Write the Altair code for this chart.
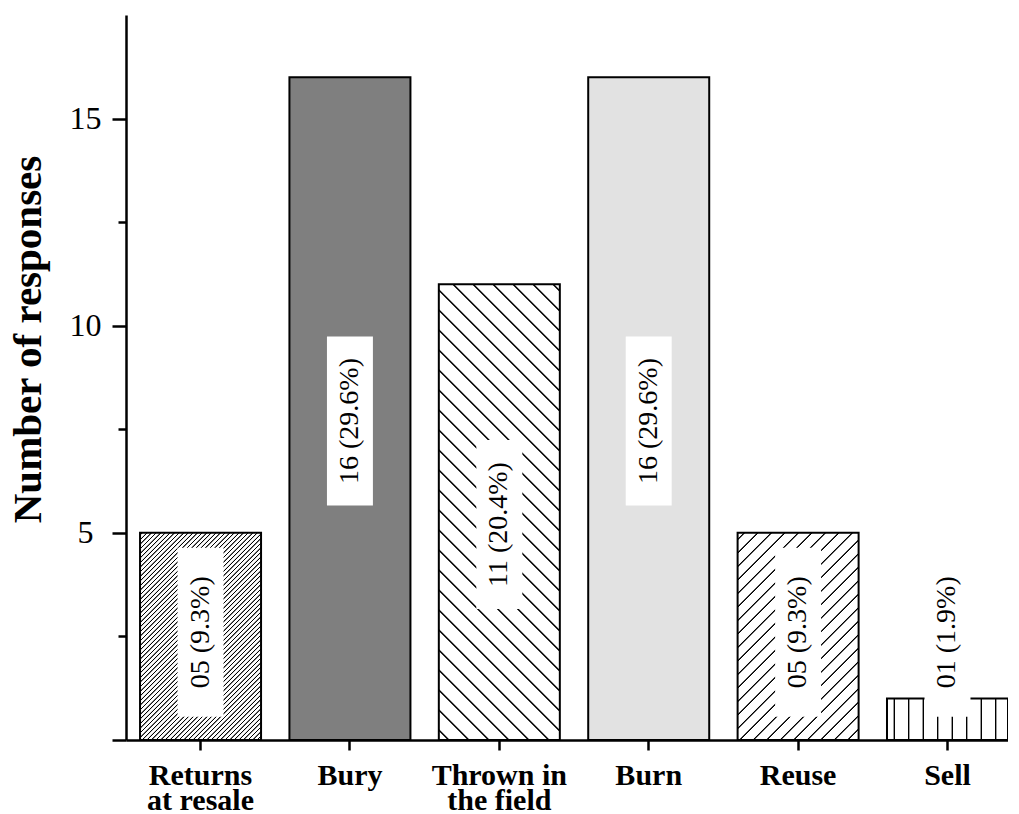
import math
import altair as alt
import pandas as pd

# ---- data ----
categories = ["Returns\nat resale", "Bury", "Thrown in\nthe field", "Burn", "Reuse", "Sell"]
counts = [5, 16, 11, 16, 5, 1]
labels = ["05 (9.3%)", "16 (29.6%)", "11 (20.4%)", "16 (29.6%)", "05 (9.3%)", "01 (1.9%)"]

# ---- layout / style ----
W, H = 882, 725
YMAX = 17.5
P_IN, P_OUT = 0.19, 0.047
SERIF = "Liberation Serif"

step = W / (len(categories) - P_IN + 2 * P_OUT)
bar_w = step * (1 - P_IN)
px_per_unit = H / YMAX

# (kind, spacing px or colour, line width px)
fill_styles = [("fwd", 4.6, 0.7), ("solid", "#7f7f7f", 0), ("back", 20.0, 1.2),
               ("solid", "#e2e2e2", 0), ("fwd", 13.5, 1.0), ("vert", 14.5, 1.1)]


def GS(color, offset):
    return alt.GradientStop(color=color, offset=round(offset, 5))


def stripes(L, spacing, lw):
    pt = spacing / L
    ho = 0.9 * lw / L
    hi = 0.35 * lw / L
    stops = [GS("white", 0)]
    c = pt / 2
    while c + ho <= 1:
        if c - ho >= 0:
            stops += [GS("white", c - ho), GS("black", c - hi),
                      GS("black", c + hi), GS("white", c + ho)]
        c += pt
    stops.append(GS("white", 1))
    return stops


def make_fill(style, value):
    kind, p, lw = style
    if kind == "solid":
        return p
    w = bar_w
    h = value * px_per_unit
    if kind == "vert":
        return alt.LinearGradient(gradient="linear", stops=stripes(w, p, lw),
                                  x1=0, y1=0, x2=1, y2=0)
    k = (w + h) / (w * w + h * h)
    a, b = k * w, k * h
    st = stripes(w + h, p, lw * math.sqrt(2))
    if kind == "fwd":
        return alt.LinearGradient(gradient="linear", stops=st, x1=0, y1=0, x2=a, y2=b)
    return alt.LinearGradient(gradient="linear", stops=st, x1=0, y1=1, x2=a, y2=1 - b)


df = pd.DataFrame({"idx": list(range(len(categories))), "category": categories,
                   "count": counts, "label": labels})

xscale = alt.Scale(domain=categories, paddingInner=P_IN, paddingOuter=P_OUT, align=1)
yscale = alt.Scale(domain=[0, YMAX], nice=False, zero=True)

xaxis = alt.Axis(title=None, labelExpr="split(datum.label, '\\n')", labelAngle=0,
                 labelFont=SERIF, labelFontWeight="bold", labelFontSize=30,
                 labelLineHeight=25, labelPadding=10, labelColor="black",
                 tickSize=10, tickWidth=2.5, tickColor="black",
                 domainColor="black", domainWidth=2.5, grid=False)

yaxis = alt.Axis(values=[0, 2.5, 5, 7.5, 10, 12.5, 15],
                 tickSize={"condition": {"test": "datum.value % 5 !== 0", "value": 8}, "value": 14},
                 labelExpr="datum.value % 5 === 0 && datum.value > 0 ? datum.label : ''",
                 labelAlign="center", labelBaseline="middle", labelPadding=27,
                 labelFont=SERIF, labelFontSize=32, labelColor="black",
                 tickWidth=2.5, tickColor="black", domainColor="black", domainWidth=2.5,
                 grid=False, title="Number of responses", titleFont=SERIF,
                 titleFontWeight="bold", titleFontSize=41, titleColor="black",
                 titleAngle=270, titleX=-86, titleY=324, titleAlign="center",
                 titleBaseline="alphabetic")

base = alt.Chart(df)
X = alt.X("category:N", scale=xscale, axis=xaxis)

bars = []
for i, (st, v) in enumerate(zip(fill_styles, counts)):
    bars.append(
        base.transform_filter(f"datum.idx == {i}")
        .mark_bar(fill=make_fill(st, v), stroke="black", strokeWidth=2)
        .encode(x=X, y=alt.Y("count:Q", scale=yscale, axis=yaxis))
    )

lbl = base.transform_calculate(lp="max(datum.count / 2 - 0.3, 2.6)")

boxes = lbl.mark_point(shape="M-0.272,-1L0.272,-1L0.272,1L-0.272,1Z", size=28561,
                       filled=True, fill="white", opacity=1, strokeWidth=0).encode(
    x=X, y=alt.Y("lp:Q", scale=yscale, axis=yaxis))

texts = lbl.mark_text(angle=270, align="center", baseline="middle", font=SERIF,
                      fontSize=28, color="black").encode(
    x=X, y=alt.Y("lp:Q", scale=yscale, axis=yaxis), text="label:N")

chart = alt.layer(*bars, boxes, texts).properties(
    width=W, height=H,
    autosize=alt.AutoSizeParams(type="none"),
    padding={"left": 118, "top": 7, "right": 0, "bottom": 74},
    background="white",
).configure_view(stroke=None)

chart.save("out.html", embed_options={"renderer": "svg", "actions": False})
